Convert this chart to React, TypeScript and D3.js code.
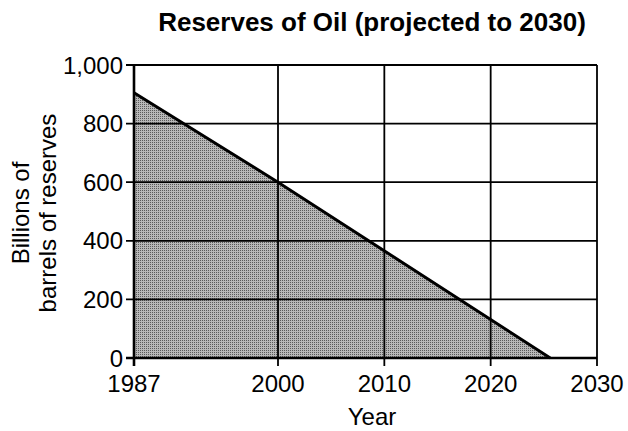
import React from "react";
import * as d3 from "d3";

const years = [1987, 2000, 2025.6];
const reserves = [905, 600, 0];
const xTicks = [1987, 2000, 2010, 2020, 2030];
const yTicks = [0, 200, 400, 600, 800, 1000];
const title = "Reserves of Oil (projected to 2030)";
const xTitle = "Year";
const yTitle = ["Billions of", "barrels of reserves"];

export default function App() {
  const W = 628, H = 431;
  const x = d3.scaleLinear().domain([1987, 2000, 2030]).range([134, 278, 597]);
  const y = d3.scaleLinear().domain([0, 1000]).range([358, 65]);
  const data = years.map((yr, i) => ({ yr, v: reserves[i] }));
  const area = d3.area<any>().x(d => x(d.yr)).y0(y(0)).y1(d => y(d.v));
  const line = d3.line<any>().x(d => x(d.yr)).y(d => y(d.v));
  const font = "'Liberation Sans', Arial, Helvetica, sans-serif";
  return (
    <svg width={W} height={H} style={{ position: "absolute", left: 0, top: 0, background: "#fff" }} fontFamily={font}>
      <defs>
        <pattern id="stip" width="2" height="2" patternUnits="userSpaceOnUse">
          <rect width="2" height="2" fill="#b8b8b8" />
          <rect width="1" height="1" fill="#5a5a5a" />
        </pattern>
      </defs>
      <rect width={W} height={H} fill="#fff" />
      <path d={area(data) || ""} fill="url(#stip)" />
      {yTicks.map(t => (
        <line key={"gy" + t} x1={x(1987) - 8} x2={x(2030)} y1={y(t)} y2={y(t)} stroke="#000" strokeWidth={1.8} />
      ))}
      {xTicks.map(t => (
        <line key={"gx" + t} x1={x(t)} x2={x(t)} y1={y(1000)} y2={y(0) + 8} stroke="#000" strokeWidth={1.8} />
      ))}
      <line x1={x(1987)} x2={x(1987)} y1={y(1000)} y2={y(0) + 8} stroke="#000" strokeWidth={2.6} />
      <line x1={x(1987) - 8} x2={x(2030)} y1={y(0)} y2={y(0)} stroke="#000" strokeWidth={2.6} />
      <path d={line(data) || ""} fill="none" stroke="#000" strokeWidth={3} />
      {yTicks.map(t => (
        <text key={"ly" + t} x={x(1987) - 11} y={y(t)} dy="0.36em" textAnchor="end" fontSize={24}>
          {d3.format(",")(t)}
        </text>
      ))}
      {xTicks.map(t => (
        <text key={"lx" + t} x={x(t)} y={y(0) + 34} textAnchor="middle" fontSize={24}>
          {t}
        </text>
      ))}
      <text x={372} y={425} textAnchor="middle" fontSize={24}>{xTitle}</text>
      <g transform="translate(29,213) rotate(-90)">
        <text x={0} y={0} textAnchor="middle" fontSize={24}>{yTitle[0]}</text>
        <text x={0} y={27} textAnchor="middle" fontSize={24}>{yTitle[1]}</text>
      </g>
      <text x={372} y={31} textAnchor="middle" fontSize={26} fontWeight="bold">{title}</text>
    </svg>
  );
}
